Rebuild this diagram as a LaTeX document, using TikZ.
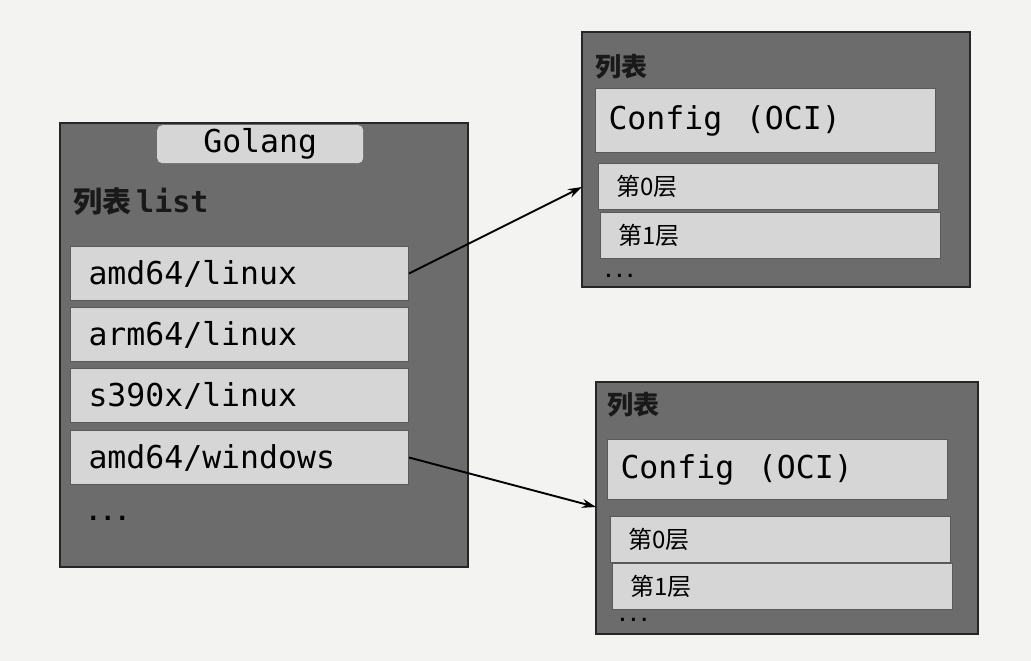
\documentclass[tikz,border=0pt]{standalone}
\usepackage{fontspec}
\setmonofont{DejaVu Sans Mono}
\newfontfamily\cjk{Noto Sans CJK SC}
\usetikzlibrary{arrows.meta}
\definecolor{pagebg}{HTML}{F3F3F1}
\definecolor{boxgray}{HTML}{6C6C6C}
\definecolor{rowgray}{HTML}{D6D6D6}
\newcommand{\monobig}{\ttfamily\fontsize{31.5}{31.5}\selectfont}
\begin{document}
\begin{tikzpicture}[x=1pt,y=-1pt,
  outer/.style={draw=black!85,fill=boxgray,line width=1.2pt},
  row/.style={anchor=north west,fill=rowgray,draw=black!65,line width=1pt,
    inner xsep=#1,align=left,font=\monobig},
  layer/.style={anchor=north west,fill=rowgray,draw=black!65,line width=1pt,
    inner xsep=18pt,align=left,font=\cjk\fontsize{24}{24}\selectfont,
    text width=304pt,minimum height=46pt},
  title/.style={anchor=west,inner sep=0pt,text=black!90},
  dots/.style={anchor=west,inner sep=0pt,font=\ttfamily\bfseries\fontsize{24}{24}\selectfont},
  link/.style={-{Stealth[length=14pt,width=9pt]},line width=1.9pt,black}]
\useasboundingbox (0,0) rectangle (1031,661);
\fill[pagebg] (0,0) rectangle (1031,661);

% left box
\path[outer] (60,123) rectangle (468,567);
\node[anchor=north west,fill=rowgray,rounded corners=5pt,minimum width=206pt,
  minimum height=38pt,font=\monobig] (golang) at (157,125) {Golang};
\node[title] (lt) at (73,202) {\cjk\bfseries\fontsize{29}{29}\selectfont 列表\ttfamily\bfseries\fontsize{30}{30}\selectfont\,list};
\node[row=18pt,text width=302pt,minimum height=54pt] (r1) at (70,246) {amd64/linux};
\node[row=18pt,text width=302pt,minimum height=54pt] (r2) at (70,307) {arm64/linux};
\node[row=18pt,text width=302pt,minimum height=54pt] (r3) at (70,368) {s390x/linux};
\node[row=18pt,text width=302pt,minimum height=54pt] (r4) at (70,430) {amd64/windows};
\node[dots] (ld) at (86,518) {...};

% right top box
\path[outer] (582,32) rectangle (970,287);
\node[coordinate] (tr) at (582,187) {};
\node[title,font=\cjk\bfseries\fontsize{26}{26}\selectfont] (tt) at (595,67) {列表};
\node[row=13pt,text width=314pt,minimum height=64pt] (tc) at (595,88) {Config\hspace{0.75em}(OCI)};
\node[layer] (t0) at (598,163) {第0层};
\node[layer] (t1) at (600,212) {第1层};
\node[dots,font=\ttfamily\bfseries\fontsize{18}{18}\selectfont] (td) at (603,276) {...};

% right bottom box
\path[outer] (596,382) rectangle (978,634);
\node[coordinate] (br) at (596,507) {};
\node[title,font=\cjk\bfseries\fontsize{26}{26}\selectfont] (bt) at (607,405) {列表};
\node[row=13pt,text width=314pt,minimum height=60pt] (bc) at (607,439) {Config\hspace{0.75em}(OCI)};
\node[layer] (b0) at (610,516) {第0层};
\node[layer] (b1) at (612,563) {第1层};
\node[dots,font=\ttfamily\bfseries\fontsize{18}{18}\selectfont] (bd) at (617,620) {...};

% arrows
\draw[link] (r1.east) -- (tr);
\draw[link] (r4.east) -- (br);
\end{tikzpicture}
\end{document}
